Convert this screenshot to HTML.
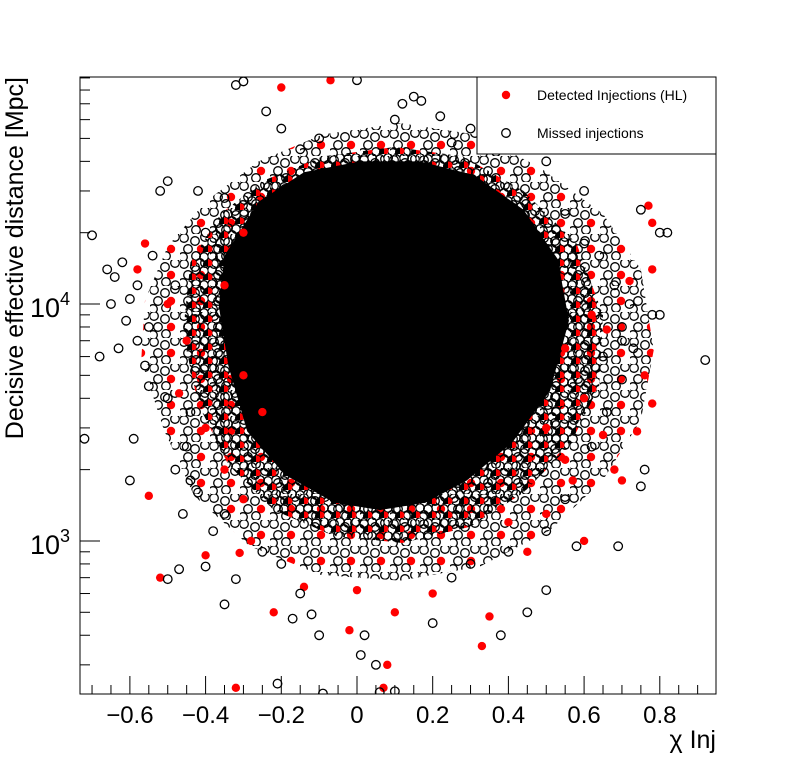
<!DOCTYPE html>
<html><head><meta charset="utf-8"><style>
body{margin:0;background:#fff;}
svg{display:block;font-family:"Liberation Sans",Arial,sans-serif;}
</style></head><body>
<svg id="chart" width="796" height="772" viewBox="0 0 796 772" xmlns="http://www.w3.org/2000/svg">
<defs>
<pattern id="halo" width="30" height="26" patternUnits="userSpaceOnUse">
<circle cx="4" cy="4" r="4.3" fill="none" stroke="#000" stroke-width="1.3"/>
<circle cx="15" cy="7" r="4.3" fill="none" stroke="#000" stroke-width="1.3"/>
<circle cx="25" cy="3" r="4.3" fill="none" stroke="#000" stroke-width="1.3"/>
<circle cx="8" cy="15" r="4.3" fill="none" stroke="#000" stroke-width="1.3"/>
<circle cx="21" cy="15" r="4.2" fill="#f00"/>
<circle cx="3" cy="23" r="4.3" fill="none" stroke="#000" stroke-width="1.3"/>
<circle cx="16" cy="22" r="4.3" fill="none" stroke="#000" stroke-width="1.3"/>
</pattern>
<pattern id="halo2" width="16" height="14" patternUnits="userSpaceOnUse">
<circle cx="4" cy="4" r="4.3" fill="none" stroke="#000" stroke-width="1.4"/>
<circle cx="12" cy="5" r="4.3" fill="none" stroke="#000" stroke-width="1.4"/>
<circle cx="8" cy="11" r="4.3" fill="none" stroke="#000" stroke-width="1.4"/>
<circle cx="1" cy="11" r="3.5" fill="#f00"/>
<circle cx="15" cy="12" r="4" fill="#000"/>
</pattern>
<clipPath id="clip"><rect x="80" y="77" width="636" height="617"/></clipPath>
</defs>
<rect x="0" y="0" width="796" height="772" fill="#fff"/>
<g id="plot" clip-path="url(#clip)"></g>
<g id="axes"></g>
</svg>
<script>
// ---- data ----
const xTickValues=[-0.6,-0.4,-0.2,0,0.2,0.4,0.6,0.8];
const xTickLabels=["\u22120.6","\u22120.4","\u22120.2","0","0.2","0.4","0.6","0.8"];
const yTickValues=[1000,10000];
const yTickExps=["3","4"];
// outer halo region (sparse mix) chi, distance
const haloChi=[-0.560,-0.500,-0.400,-0.260,-0.090,0.114,0.310,0.480,0.650,0.750,0.784,0.750,0.650,0.510,0.325,0.114,-0.098,-0.283,-0.430,-0.510,-0.570];
const haloDist=[10400,17500,27000,40000,52000,58000,52000,38000,24000,14000,6400,3240,1810,1110,780,680,720,950,1550,2940,5800];
// inner halo (denser)
const innerChi=[-0.440,-0.360,-0.250,-0.090,0.100,0.280,0.440,0.580,0.650,0.640,0.560,0.440,0.300,0.120,-0.060,-0.220,-0.340,-0.420,-0.460];
const innerDist=[15000,24000,33000,42000,46000,42000,30000,18000,9000,4500,2500,1600,1150,980,1050,1350,2100,3800,7500];
// dense core region
const coreChi=[-0.350,-0.260,-0.140,0.008,0.166,0.310,0.440,0.530,0.560,0.510,0.410,0.290,0.180,0.061,-0.060,-0.190,-0.290,-0.340,-0.365];
const coreDist=[16000,27000,36000,40000,40000,35000,25000,15500,8500,4300,2600,1800,1450,1350,1450,1900,2900,5500,9800];
const missedChi=[-0.70,-0.68,-0.72,-0.62,-0.60,-0.58,-0.59,-0.60,-0.52,-0.50,-0.48,-0.46,-0.50,-0.47,-0.40,-0.35,-0.32,-0.30,-0.32,-0.24,-0.20,-0.21,-0.09,0.02,0.10,0.05,0.00,0.15,0.30,0.35,0.45,0.60,0.75,0.80,0.82,0.78,0.80,0.92,0.75,0.76,0.58,0.50,0.45,0.38,0.20,0.25,-0.10,-0.15,-0.35,-0.44,-0.55,-0.55,-0.48,-0.40,-0.35,0.65,0.70,0.68,0.60,0.55,-0.65,-0.64,-0.66,-0.56,-0.50,-0.45,-0.42,-0.38,-0.25,-0.20,0.30,0.40,0.50,0.55,0.62,0.66,0.70,0.72,0.25,0.10,-0.10,-0.15,0.40,0.50,-0.42,-0.12,-0.17,0.01,0.06,0.69,-0.63,-0.44,0.12,0.17,0.22,-0.58,-0.61,-0.54,0.70,0.64,0.73];
const missedDist=[19500,6000,2700,15000,10500,7000,2700,1800,30000,33000,2000,1300,690,760,780,540,690,87000,84000,65000,55000,250,227,400,232,300,88000,75000,55000,65000,50000,30000,25000,20000,20000,9000,9000,5800,1700,2000,950,620,500,400,450,700,400,600,1300,3500,4500,8000,12000,20000,28000,6000,4800,12000,18000,24000,10000,13000,14000,5500,4000,2500,1600,1100,900,800,800,900,1100,1500,2500,3500,7000,10000,48000,60000,50000,45000,45000,40000,30000,490,470,330,230,950,6500,1800,70000,72000,62000,12000,8500,16000,8000,16000,6500];
const detectedChi=[-0.55,-0.52,-0.32,-0.40,-0.22,-0.20,-0.07,0.07,0.33,0.35,0.00,-0.02,0.78,0.76,0.74,0.78,0.78,0.77,0.70,0.68,0.65,0.60,0.62,-0.58,-0.56,-0.50,-0.45,-0.40,-0.35,-0.30,-0.28,0.45,0.50,0.55,0.60,0.55,0.50,-0.25,-0.30,-0.35,-0.30,0.40,0.20,0.10,0.08,-0.14,-0.31,0.72,0.66,-0.47,0.57];
const detectedDist=[1550,700,240,870,500,82000,88000,240,360,480,620,420,3800,5000,2900,14000,22000,26000,1800,2000,2800,1000,9000,14000,18000,10000,7000,3000,2000,1500,1000,900,1300,2200,4000,6500,3000,3500,5000,12000,20000,1200,600,500,300,640,890,12500,7800,4200,1800];

// ---- axes functions ----
const L=80,R=716,T=77,B=694;
const xMin=-0.7318,xMax=0.9485;
const yLogMin=Math.log10(226),yLogMax=Math.log10(90800);
const X=v=>L+(v-xMin)/(xMax-xMin)*(R-L);
const Y=v=>B-(Math.log10(v)-yLogMin)/(yLogMax-yLogMin)*(B-T);
const NS="http://www.w3.org/2000/svg";
const plot=document.getElementById('plot'),axes=document.getElementById('axes');
function mk(tag,attrs,parent){const e=document.createElementNS(NS,tag);for(const k in attrs)e.setAttribute(k,attrs[k]);parent.appendChild(e);return e;}

const halo=mk('polygon',{points:haloChi.map((c,i)=>X(c)+','+Y(haloDist[i])).join(' '),fill:'url(#halo)'},plot);


const inner=mk('polygon',{points:innerChi.map((c,i)=>X(c)+','+Y(innerDist[i])).join(' '),fill:'url(#halo2)'},plot);


const core=mk('polygon',{points:coreChi.map((c,i)=>X(c)+','+Y(coreDist[i])).join(' '),fill:'#000'},plot);


detectedChi.forEach((c,i)=>{const p=mk('circle',{cx:X(c),cy:Y(detectedDist[i]),r:4.2,fill:'#f00'},plot);

});
missedChi.forEach((c,i)=>{const p=mk('circle',{cx:X(c),cy:Y(missedDist[i]),r:4.3,fill:'none',stroke:'#000','stroke-width':1.3},plot);

});

// frame
const fr=mk('rect',{x:L,y:T,width:R-L,height:B-T,fill:'none',stroke:'#000','stroke-width':1},axes);


// x ticks
for(let k=-14;k<=18;k++){const v=k*0.05;if(v<xMin||v>xMax)continue;const major=k%4===0;
const t=mk('line',{x1:X(v),x2:X(v),y1:B,y2:B-(major?18:9),stroke:'#000','stroke-width':1},axes);

}
xTickValues.forEach((v,i)=>{const t=mk('text',{x:X(v),y:B+29,'font-size':24,'text-anchor':'middle'},axes);t.textContent=xTickLabels[i];

});
// y ticks
for(let d=2;d<=4;d++)for(let m=1;m<=9;m++){const v=m*Math.pow(10,d);if(v<226||v>90800)continue;
const t=mk('line',{x1:L,x2:L+(m===1?20:10),y1:Y(v),y2:Y(v),stroke:'#000','stroke-width':1},axes);

}
yTickValues.forEach((v,i)=>{const t=mk('text',{x:70,y:Y(v)+13,'font-size':27,'text-anchor':'end'},axes);


const a=mk('tspan',{},t);a.textContent='10';const b=mk('tspan',{dy:-12,'font-size':18},t);b.textContent=yTickExps[i];});
// axis titles
const xt=mk('text',{x:716,y:748,'font-size':25,'text-anchor':'end'},axes);xt.textContent='\u03c7 Inj';


const yt=mk('text',{x:0,y:0,'font-size':25,'text-anchor':'end',transform:'translate(23,77) rotate(-90)'},axes);yt.textContent='Decisive effective distance [Mpc]';


// legend
const lg=mk('g',{},axes);


mk('rect',{x:477,y:77,width:239,height:77,fill:'#fff',stroke:'#000','stroke-width':1},lg);
const e1=mk('circle',{cx:506,cy:95,r:4.2,fill:'#f00'},lg);


const t1=mk('text',{x:537,y:100,'font-size':14},lg);t1.textContent='Detected Injections (HL)';


const e2=mk('circle',{cx:506,cy:133,r:4.3,fill:'none',stroke:'#000','stroke-width':1.3},lg);


const t2=mk('text',{x:537,y:138,'font-size':14},lg);t2.textContent='Missed injections';


</script>
</body></html>
